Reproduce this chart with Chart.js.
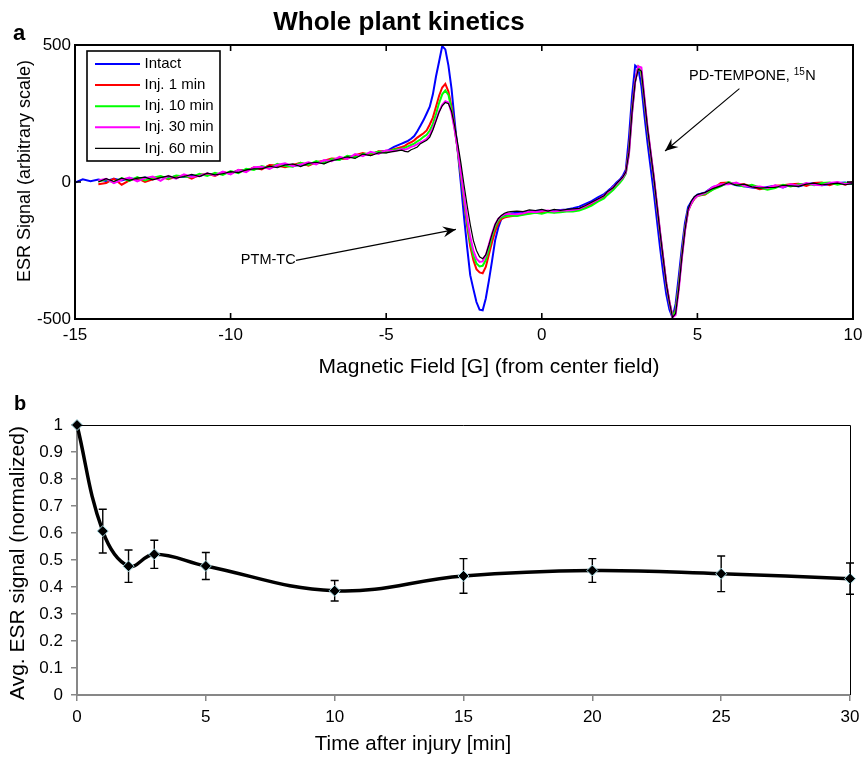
<!DOCTYPE html>
<html><head><meta charset="utf-8">
<script src="https://cdn.jsdelivr.net/npm/chart.js@4.4.1/dist/chart.umd.min.js"></script>
<style>
html,body{margin:0;padding:0;background:#fff;overflow:hidden;}
#wrap{position:relative;width:866px;height:758px;background:#fff;}
canvas{position:absolute;left:0;}
#c1{top:0;} #c2{top:380px;}
</style></head><body>
<div id="wrap"><canvas id="c1" width="866" height="380"></canvas><canvas id="c2" width="866" height="378"></canvas></div>
<script>
const FONT = '"Liberation Sans", Arial, Helvetica, sans-serif';

// ---------- Panel a: ESR spectra ----------
const fieldG = [
 -15,-14.75,-14.5,-14.25,-14,-13.75,-13.5,-13.25,-13,-12.75,-12.5,-12.25,-12,-11.75,-11.5,-11.25,-11,-10.75,-10.5,-10.25,-10,-9.75,-9.5,-9.25,-9,-8.75,-8.5,-8.25,-8,-7.75,-7.5,-7.25,-7,-6.75,-6.5,-6.25,-6,-5.75,-5.5,-5.25,-5,-4.75,-4.5,
 -4.4,-4.3,-4.2,-4.1,-4,-3.9,-3.8,-3.7,-3.6,-3.5,-3.4,-3.3,-3.2,-3.1,-3,-2.9,-2.8,-2.7,-2.6,-2.5,-2.4,-2.3,-2.2,-2.1,-2,-1.9,-1.8,-1.7,-1.6,-1.5,-1.4,-1.3,-1.2,-1.1,-1,
 -0.8,-0.6,-0.4,-0.2,0,0.2,0.4,0.6,0.8,1,1.2,1.4,1.6,1.8,2,
 2.1,2.2,2.3,2.4,2.5,2.6,2.7,2.8,2.9,3,3.1,3.2,3.3,3.4,3.5,3.6,3.7,3.8,3.9,4,4.1,4.2,4.3,4.4,4.5,4.6,4.7,4.8,4.9,5,
 5.25,5.5,5.75,6,6.25,6.5,6.75,7,7.25,7.5,7.75,8,8.25,8.5,8.75,9,9.25,9.5,9.75,10
];
const intact = [
 -2,10,3,9,4,12,6,14,10,16,12,18,14,22,18,24,22,30,26,34,32,42,44,50,50,58,58,64,58,64,62,72,70,82,82,92,92,102,100,110,112,128,140,
 145,150,158,168,185,205,226,250,275,320,385,440,496,484,425,340,222,111,-6,-127,-238,-340,-390,-438,-466,-468,-425,-360,-289,-213,-167,-135,-124,-118,-115,
 -112,-110,-108,-106,-104,-108,-104,-102,-100,-96,-90,-80,-70,-56,-44,
 -35,-25,-14,-2,8,22,45,162,314,425,415,350,240,140,50,-40,-140,-240,-330,-410,-465,-495,-445,-345,-240,-150,-92,-72,-56,-46,
 -38,-18,-14,-4,-12,-16,-20,-24,-18,-14,-20,-10,-16,-8,-4,-12,-8,-4,-2,-8
];
const inj1 = [
 null,null,null,-8,-4,12,-10,6,14,0,10,20,10,20,24,12,26,30,22,36,30,44,40,54,46,62,60,54,62,70,60,72,78,86,84,86,98,106,98,112,110,120,128,
 132,140,145,152,162,170,178,188,210,235,275,315,345,358,330,274,200,115,24,-70,-160,-235,-285,-318,-330,-333,-310,-265,-220,-180,-152,-135,-130,-127,-125,
 -122,-118,-114,-112,-110,-108,-110,-106,-106,-104,-100,-92,-80,-68,-55,
 -42,-32,-22,-10,2,15,35,115,262,372,420,400,292,188,100,12,-88,-188,-280,-372,-438,-490,-468,-378,-268,-172,-105,-80,-62,-50,
 -46,-26,-4,-2,-8,-8,-16,-26,-22,-14,-12,-8,-6,-14,-4,-2,-12,-2,-10,0
];
const inj10 = [
 null,null,null,2,10,-2,14,4,18,6,16,22,12,24,20,18,30,22,34,26,40,32,48,44,58,50,66,58,56,70,62,76,68,84,80,96,90,102,104,110,108,118,122,
 125,130,135,140,148,155,165,172,188,212,248,288,320,334,318,265,195,115,28,-62,-148,-218,-268,-297,-308,-306,-285,-245,-200,-165,-142,-130,-126,-124,-122,
 -124,-120,-116,-112,-116,-110,-112,-110,-108,-108,-104,-96,-86,-72,-60,
 -48,-38,-28,-16,-4,10,30,105,255,368,418,402,295,190,102,14,-86,-186,-279,-372,-440,-492,-470,-380,-270,-175,-104,-78,-60,-50,
 -44,-28,-16,0,-10,-16,-10,-20,-28,-22,-10,-16,-8,-6,-12,-4,-2,-10,-4,-6
];
const inj30 = [
 null,null,null,6,12,-4,8,16,2,14,20,4,22,12,28,18,22,32,24,38,28,44,36,54,56,48,62,68,58,64,72,64,80,76,92,84,102,94,110,102,116,112,120,
 118,122,128,132,138,145,150,158,172,196,226,258,282,295,290,252,190,118,35,-50,-132,-200,-250,-280,-292,-290,-268,-228,-188,-155,-135,-124,-118,-116,-117,
 -118,-114,-108,-110,-106,-104,-108,-104,-104,-102,-98,-88,-76,-64,-50,
 -38,-30,-18,-8,4,16,34,100,248,365,422,418,305,198,108,20,-80,-180,-275,-368,-436,-494,-485,-395,-280,-180,-106,-78,-60,-50,
 -40,-18,-8,-8,-2,-14,-18,-16,-22,-12,-20,-8,-14,-4,-10,-12,-4,0,-8,-2
];
const inj60 = [
 null,null,null,0,12,2,14,6,14,18,8,16,22,14,20,28,20,32,26,30,38,34,44,48,48,58,52,62,66,56,68,72,66,78,84,92,86,102,96,106,106,112,116,
 112,110,118,122,128,140,146,152,164,190,222,255,278,290,286,258,205,140,70,-10,-85,-155,-213,-250,-273,-280,-265,-230,-190,-155,-134,-122,-114,-110,-108,
 -106,-108,-102,-104,-100,-106,-100,-104,-100,-98,-96,-86,-74,-62,-50,
 -36,-28,-20,-6,6,18,36,108,255,365,412,405,300,195,105,16,-84,-184,-278,-370,-438,-494,-480,-390,-275,-176,-100,-70,-54,-46,
 -38,-24,-14,-2,-12,-8,-18,-22,-20,-20,-12,-14,-16,-8,-4,-10,-8,-4,-10,-6
];
const seriesLabels = ['Intact','Inj. 1 min','Inj. 10 min','Inj. 30 min','Inj. 60 min'];
const seriesValues = [intact, inj1, inj10, inj30, inj60];
const seriesColors = ['#0000ff','#ff0000','#00ff00','#ff00ff','#000000'];
const fieldTicks = [-15,-10,-5,0,5,10];
const signalTicks = [-500,0,500];

// ---------- Panel b: kinetics ----------
const timeMin   = [0, 1, 2, 3, 5, 10, 15, 20, 25, 30];
const avgSignal = [1.0, 0.607, 0.477, 0.521, 0.478, 0.386, 0.441, 0.461, 0.449, 0.431];
const signalErr = [0, 0.081, 0.060, 0.052, 0.050, 0.038, 0.064, 0.044, 0.066, 0.058];
const timeTicks = [0,5,10,15,20,25,30];

Chart.defaults.font.family = FONT;
Chart.defaults.color = '#000';

function arrow(ctx, x1, y1, x2, y2) {
  ctx.beginPath(); ctx.moveTo(x1, y1); ctx.lineTo(x2, y2); ctx.stroke();
  const a = Math.atan2(y2 - y1, x2 - x1), L = 13, W = 5.5;
  const bx = x2 - L * Math.cos(a), by = y2 - L * Math.sin(a);
  const mx = x2 - L * 0.65 * Math.cos(a), my = y2 - L * 0.65 * Math.sin(a);
  const nx = -Math.sin(a), ny = Math.cos(a);
  ctx.beginPath(); ctx.moveTo(x2, y2);
  ctx.lineTo(bx + nx * W, by + ny * W); ctx.lineTo(mx, my); ctx.lineTo(bx - nx * W, by - ny * W);
  ctx.closePath(); ctx.fill();
}

const annotationsA = [
  {text: 'PTM-TC', at: [-9.67, -286], from: [-7.9, -286], to: [-2.76, -173]},
  {text: 'PD-TEMPONE, ', sup: '15', tail: 'N', at: [4.73, 386], from: [6.35, 341], to: [3.96, 113]}
];

const legendA = {
  id: 'legendA',
  afterDatasetsDraw(chart) {
    const ctx = chart.ctx, ca = chart.chartArea;
    const x0 = ca.left + 12, y0 = ca.top + 6, w = 133, h = 110;
    ctx.save();
    ctx.fillStyle = '#fff'; ctx.fillRect(x0, y0, w, h);
    ctx.lineWidth = 1.6; ctx.strokeStyle = '#000'; ctx.strokeRect(x0, y0, w, h);
    ctx.font = '15px ' + FONT; ctx.textBaseline = 'middle'; ctx.textAlign = 'left';
    chart.data.datasets.forEach((ds, i) => {
      const yy = y0 + 13 + i * 21.1;
      ctx.strokeStyle = ds.borderColor; ctx.lineWidth = ds.borderWidth;
      ctx.beginPath(); ctx.moveTo(x0 + 8, yy); ctx.lineTo(x0 + 53, yy); ctx.stroke();
      ctx.fillStyle = '#000'; ctx.fillText(ds.label, x0 + 57.5, yy);
    });
    ctx.restore();
  }
};

const frameA = {
  id: 'frameA',
  afterDraw(chart) {
    const ctx = chart.ctx, ca = chart.chartArea, sx = chart.scales.x, sy = chart.scales.y;
    ctx.save();
    ctx.strokeStyle = '#000'; ctx.fillStyle = '#000'; ctx.lineWidth = 2;
    ctx.strokeRect(ca.left, ca.top, ca.right - ca.left, ca.bottom - ca.top);
    ctx.lineWidth = 1.6;
    fieldTicks.forEach(v => {
      const p = sx.getPixelForValue(v);
      if (p <= ca.left + 1 || p >= ca.right - 1) return;
      ctx.beginPath();
      ctx.moveTo(p, ca.bottom); ctx.lineTo(p, ca.bottom - 6);
      ctx.moveTo(p, ca.top); ctx.lineTo(p, ca.top + 6);
      ctx.stroke();
    });
    signalTicks.forEach(v => {
      const p = sy.getPixelForValue(v);
      if (p <= ca.top + 1 || p >= ca.bottom - 1) return;
      ctx.beginPath();
      ctx.moveTo(ca.left, p); ctx.lineTo(ca.left + 6, p);
      ctx.moveTo(ca.right, p); ctx.lineTo(ca.right - 6, p);
      ctx.stroke();
    });
    // titles
    ctx.textAlign = 'center'; ctx.textBaseline = 'alphabetic';
    ctx.font = 'bold 26px ' + FONT;
    ctx.fillText('Whole plant kinetics', 399, 30);
    ctx.textAlign = 'left';
    ctx.font = 'bold 22px ' + FONT;
    ctx.fillText('a', 13, 40);
    ctx.textAlign = 'center'; ctx.textBaseline = 'middle';
    ctx.font = '21px ' + FONT;
    ctx.fillText('Magnetic Field [G] (from center field)', 489, 367);
    ctx.save();
    ctx.translate(25, 171); ctx.rotate(-Math.PI / 2);
    ctx.font = '18px ' + FONT;
    ctx.fillText('ESR Signal (arbitrary scale)', 0, 0);
    ctx.restore();
    // annotations
    ctx.lineWidth = 1.1;
    annotationsA.forEach(an => {
      const tx = sx.getPixelForValue(an.at[0]), ty = sy.getPixelForValue(an.at[1]);
      ctx.textAlign = 'left'; ctx.textBaseline = 'middle';
      ctx.font = '14.5px ' + FONT;
      ctx.fillText(an.text, tx, ty);
      if (an.sup) {
        let w = ctx.measureText(an.text).width;
        ctx.font = '10px ' + FONT;
        ctx.fillText(an.sup, tx + w, ty - 4);
        w += ctx.measureText(an.sup).width + 0.5;
        ctx.font = '14.5px ' + FONT;
        ctx.fillText(an.tail, tx + w, ty);
      }
      arrow(ctx, sx.getPixelForValue(an.from[0]), sy.getPixelForValue(an.from[1]),
                 sx.getPixelForValue(an.to[0]), sy.getPixelForValue(an.to[1]));
    });
    ctx.restore();
  }
};

new Chart(document.getElementById('c1'), {
  type: 'line',
  data: {
    datasets: seriesLabels.map((lab, i) => ({
      label: lab,
      data: fieldG.map((g, k) => ({x: g, y: seriesValues[i][k]})),
      borderColor: seriesColors[i],
      backgroundColor: seriesColors[i],
      borderWidth: i === 4 ? 1.2 : 2,
      pointRadius: 0, tension: 0, spanGaps: false, order: 4 - i
    }))
  },
  options: {
    responsive: false, animation: false, devicePixelRatio: 1,
    layout: {padding: {top: 45, right: 13, left: 0, bottom: 0}},
    plugins: {legend: {display: false}, tooltip: {enabled: false}, title: {display: false}},
    scales: {
      x: {
        type: 'linear', min: -15, max: 10,
        afterBuildTicks: s => { s.ticks = fieldTicks.map(v => ({value: v})); },
        afterFit: s => { s.height = 61; s.paddingRight = 0; s.paddingLeft = 0; },
        grid: {display: false, drawTicks: false}, border: {display: false},
        ticks: {font: {size: 17}, color: '#000', padding: 6, maxRotation: 0, autoSkip: false}
      },
      y: {
        type: 'linear', min: -500, max: 500,
        afterBuildTicks: s => { s.ticks = signalTicks.map(v => ({value: v})); },
        afterFit: s => { s.width = 75; s.paddingTop = 0; s.paddingBottom = 0; },
        grid: {display: false, drawTicks: false}, border: {display: false},
        ticks: {font: {size: 17}, color: '#000', padding: 4}
      }
    }
  },
  plugins: [legendA, frameA]
});

const errorBarsB = {
  id: 'errorBarsB',
  beforeDatasetsDraw(chart) {
    const ctx = chart.ctx, sx = chart.scales.x, sy = chart.scales.y;
    ctx.save(); ctx.strokeStyle = '#000'; ctx.lineWidth = 1.4;
    timeMin.forEach((t, i) => {
      if (!signalErr[i]) return;
      const x = sx.getPixelForValue(t);
      const yt = sy.getPixelForValue(avgSignal[i] + signalErr[i]);
      const yb = sy.getPixelForValue(avgSignal[i] - signalErr[i]);
      ctx.beginPath();
      ctx.moveTo(x, yt); ctx.lineTo(x, yb);
      ctx.moveTo(x - 4, yt); ctx.lineTo(x + 4, yt);
      ctx.moveTo(x - 4, yb); ctx.lineTo(x + 4, yb);
      ctx.stroke();
    });
    ctx.restore();
  },
  afterDraw(chart) {
    const ctx = chart.ctx, ca = chart.chartArea;
    ctx.save();
    ctx.strokeStyle = '#000'; ctx.lineWidth = 1;
    ctx.beginPath();
    ctx.moveTo(ca.left, ca.top + 0.5); ctx.lineTo(ca.right + 0.5, ca.top + 0.5); ctx.lineTo(ca.right + 0.5, ca.bottom);
    ctx.stroke();
    ctx.fillStyle = '#000';
    ctx.textAlign = 'left'; ctx.textBaseline = 'alphabetic';
    ctx.font = 'bold 20px ' + FONT;
    ctx.fillText('b', 14, 30);
    ctx.textAlign = 'center'; ctx.textBaseline = 'middle';
    ctx.font = '20.5px ' + FONT;
    ctx.fillText('Time after injury [min]', 413, 364);
    ctx.save();
    ctx.translate(18, 183); ctx.rotate(-Math.PI / 2);
    ctx.font = '21px ' + FONT;
    ctx.fillText('Avg. ESR signal (normalized)', 0, 0);
    ctx.restore();
    ctx.restore();
  }
};

new Chart(document.getElementById('c2'), {
  type: 'line',
  data: {
    datasets: [{
      label: 'Avg. ESR signal (normalized)',
      data: timeMin.map((t, i) => ({x: t, y: avgSignal[i]})),
      borderColor: '#000', borderWidth: 3.5, tension: 0.4,
      pointStyle: 'rectRot', pointRadius: 5.5,
      pointBackgroundColor: '#000', pointBorderColor: '#a9dde6', pointBorderWidth: 1,
      clip: false
    }]
  },
  options: {
    responsive: false, animation: false, devicePixelRatio: 1,
    layout: {padding: {top: 45, right: 16, left: 0, bottom: 0}},
    plugins: {legend: {display: false}, tooltip: {enabled: false}, title: {display: false}},
    scales: {
      x: {
        type: 'linear', min: 0, max: 30,
        afterBuildTicks: s => { s.ticks = timeTicks.map(v => ({value: v})); },
        afterFit: s => { s.height = 63; },
        grid: {display: true, drawOnChartArea: false, drawTicks: true, tickLength: 6, color: '#878787', lineWidth: 1.5},
        border: {display: true, color: '#878787', width: 2},
        ticks: {font: {size: 17}, color: '#000', padding: 6, maxRotation: 0, autoSkip: false}
      },
      y: {
        type: 'linear', min: 0, max: 1,
        afterFit: s => { s.width = 77; },
        grid: {display: true, drawOnChartArea: false, drawTicks: true, tickLength: 6, color: '#878787', lineWidth: 1.5},
        border: {display: true, color: '#878787', width: 2},
        ticks: {stepSize: 0.1, font: {size: 17}, color: '#000', padding: 8,
                callback: v => String(Math.round(v * 10) / 10)}
      }
    }
  },
  plugins: [errorBarsB]
});
</script>
</body></html>
